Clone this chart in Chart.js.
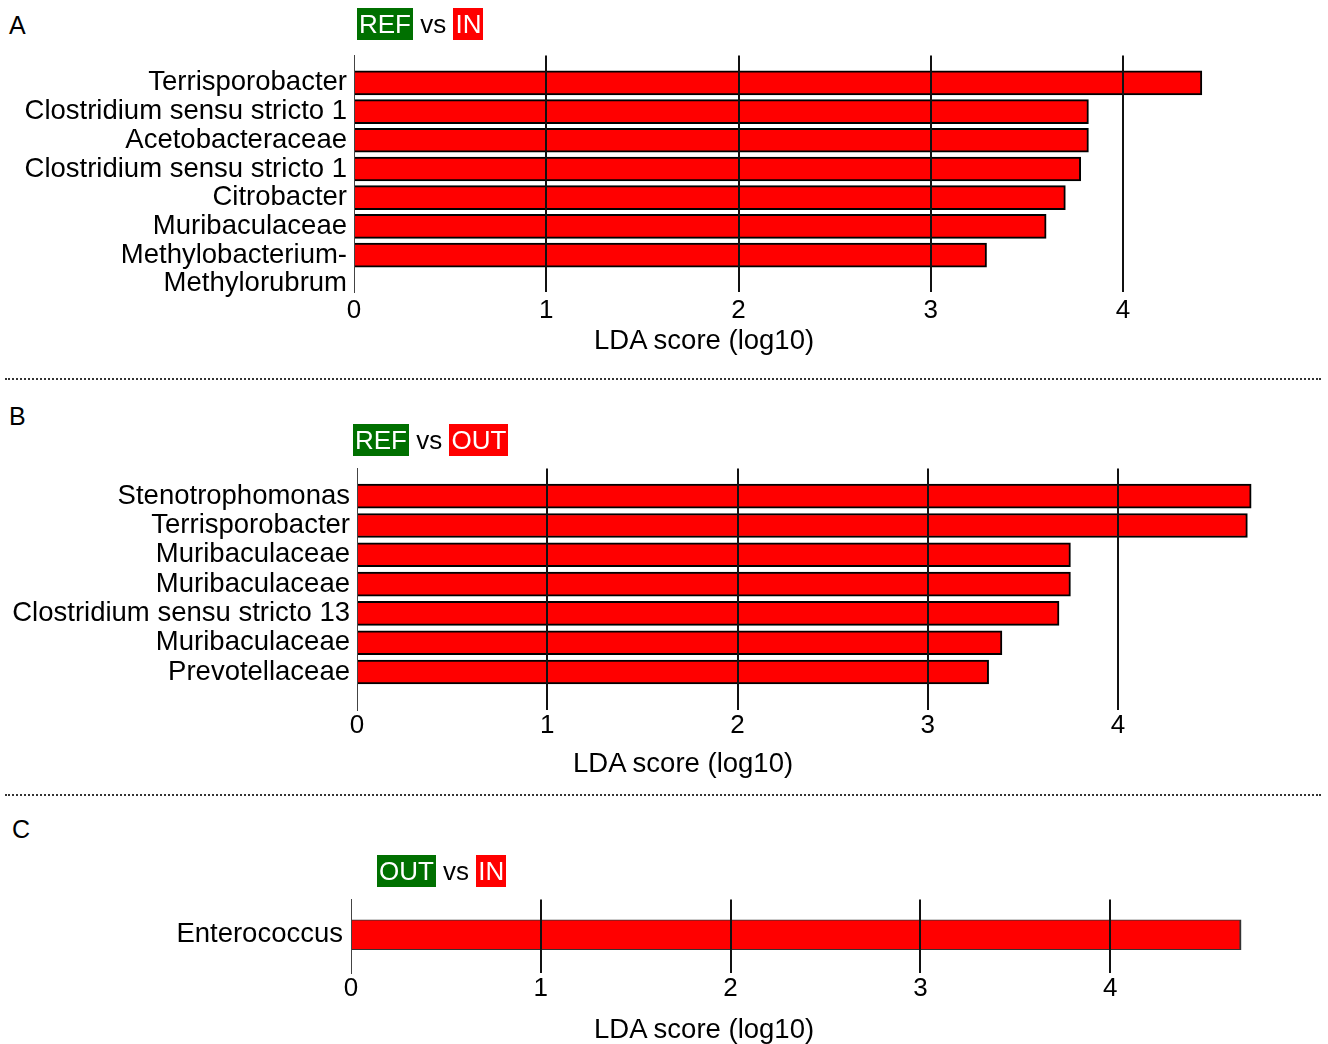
<!DOCTYPE html>
<html lang="en">
<head>
<meta charset="UTF-8">
<title>LDA scores</title>
<script src="https://cdn.jsdelivr.net/npm/chart.js@4.4.0/dist/chart.umd.min.js"></script>
<style>
  html, body { margin: 0; padding: 0; background: #fff; overflow: hidden; }
  body { width: 1328px; height: 1044px; position: relative; font-family: 'Liberation Sans', Arial, sans-serif; }
  .letter { position: absolute; font-size: 25px; line-height: 25px; color: #000; }
  .cmp { position: absolute; z-index: 2; font-size: 26px; line-height: 32px; color: #000; white-space: nowrap; }
  .cmp span { display: inline-block; padding: 0 2px; color: #fff; }
  .grn { background: #007000; }
  .red { background: #ff0000; }
  .xtitle { position: absolute; z-index: 2; font-size: 27.5px; line-height: 32px; color: #000; white-space: nowrap; }
  .sep { position: absolute; left: 5px; width: 1316px; border-top: 2px dotted #333; }
  canvas { position: absolute; left: 0; }
</style>
</head>
<body>
  <div class="letter" style="left:9px; top:13px;">A</div>
  <div class="cmp" style="left:357px; top:8px;"><span class="grn">REF</span> vs <span class="red">IN</span></div>
  <canvas id="chartA" width="1328" height="340" style="top:32px;"></canvas>
  <div class="xtitle" style="left:594px; top:324px;">LDA score (log10)</div>

  <div class="sep" style="top:378px;"></div>

  <div class="letter" style="left:9px; top:404px;">B</div>
  <div class="cmp" style="left:353px; top:424px;"><span class="grn">REF</span> vs <span class="red">OUT</span></div>
  <canvas id="chartB" width="1328" height="345" style="top:445px;"></canvas>
  <div class="xtitle" style="left:573px; top:747px;">LDA score (log10)</div>

  <div class="sep" style="top:794px;"></div>

  <div class="letter" style="left:12px; top:817px;">C</div>
  <div class="cmp" style="left:377px; top:855px;"><span class="grn">OUT</span> vs <span class="red">IN</span></div>
  <canvas id="chartC" width="1328" height="169" style="top:875px;"></canvas>
  <div class="xtitle" style="left:594px; top:1013px;">LDA score (log10)</div>

<script>
// panel A: REF vs IN
const labelsA = ['Terrisporobacter', 'Clostridium sensu stricto 1', 'Acetobacteraceae',
                 'Clostridium sensu stricto 1', 'Citrobacter', 'Muribaculaceae',
                 ['Methylobacterium-', 'Methylorubrum']];
const ldaA = [4.41, 3.82, 3.82, 3.78, 3.70, 3.60, 3.29];

// panel B: REF vs OUT
const labelsB = ['Stenotrophomonas', 'Terrisporobacter', 'Muribaculaceae', 'Muribaculaceae',
                 'Clostridium sensu stricto 13', 'Muribaculaceae', 'Prevotellaceae'];
const ldaB = [4.70, 4.68, 3.75, 3.75, 3.69, 3.39, 3.32];

// panel C: OUT vs IN
const labelsC = ['Enterococcus'];
const ldaC = [4.69];

Chart.defaults.font.family = "'Liberation Sans', Arial, sans-serif";
Chart.defaults.color = '#000';

function makeChart(id, labels, values, cfg) {
    const ctx = document.getElementById(id).getContext('2d');
    return new Chart(ctx, {
        type: 'bar',
        data: {
            datasets: [{
                data: values.map((v, i) => ({ x: v, y: i })),
                backgroundColor: '#ff0000',
                borderColor: cfg.borderColor,
                borderWidth: cfg.borderWidth,
                barThickness: cfg.barThickness
            }]
        },
        options: {
            indexAxis: 'y',
            responsive: false,
            animation: false,
            devicePixelRatio: 1,
            layout: { padding: { top: 0, right: cfg.padRight, bottom: 0, left: 0 } },
            plugins: { legend: { display: false }, tooltip: { enabled: false } },
            scales: {
                x: {
                    type: 'linear',
                    min: 0,
                    max: cfg.xMax,
                    border: { display: false },
                    grid: {
                        z: 1,
                        drawTicks: false,
                        lineWidth: 2,
                        color: (c) => (c.tick && c.tick.value === 0) ? 'rgba(0,0,0,0)' : '#111'
                    },
                    ticks: {
                        stepSize: 1,
                        includeBounds: false,
                        padding: cfg.tickPad,
                        maxRotation: 0,
                        font: { size: 26 }
                    },
                    // axis title is placed as HTML text below the canvas
                    title: { display: false },
                    afterFit: (scale) => { scale.height = cfg.axisH; }
                },
                y: {
                    type: 'linear',
                    reverse: true,
                    offset: false,
                    min: cfg.yMin,
                    max: cfg.yMax,
                    grid: { display: false, drawTicks: false, offset: false },
                    border: { display: true, color: '#444', width: 1 },
                    ticks: {
                        stepSize: 1,
                        includeBounds: false,
                        autoSkip: false,
                        padding: cfg.labelPad,
                        font: { size: 27.5 },
                        callback: (v) => {
                            const i = Math.round(v);
                            const lab = labels[i];
                            if (Array.isArray(lab)) return lab[0];
                            const prev = labels[i - 1];
                            if (Array.isArray(prev)) return prev.slice(1);
                            return lab === undefined ? '' : lab;
                        }
                    },
                    afterFit: (scale) => { scale.width = cfg.leftW; }
                }
            }
        }
    });
}

makeChart('chartA', labelsA, ldaA, {
    xMax: 4.6, leftW: 354, padRight: 89.6, axisH: 80, labelPad: 7,
    yMin: -0.952, yMax: 7.285, tickPad: 3,
    barThickness: 24, borderColor: '#000', borderWidth: 2
});

makeChart('chartB', labelsB, ldaB, {
    xMax: 4.8, leftW: 357, padRight: 57.8, axisH: 80, labelPad: 7,
    yMin: -0.944, yMax: 7.296, tickPad: 0,
    barThickness: 24, borderColor: '#000', borderWidth: 2
});

makeChart('chartC', labelsC, ldaC, {
    xMax: 4.8, leftW: 351, padRight: 66, axisH: 71, labelPad: 8,
    yMin: -1.2, yMax: 1.3, tickPad: 0,
    barThickness: 30, borderColor: '#333', borderWidth: { top: 1, bottom: 1, right: 2, left: 0 }
});
</script>
</body>
</html>
